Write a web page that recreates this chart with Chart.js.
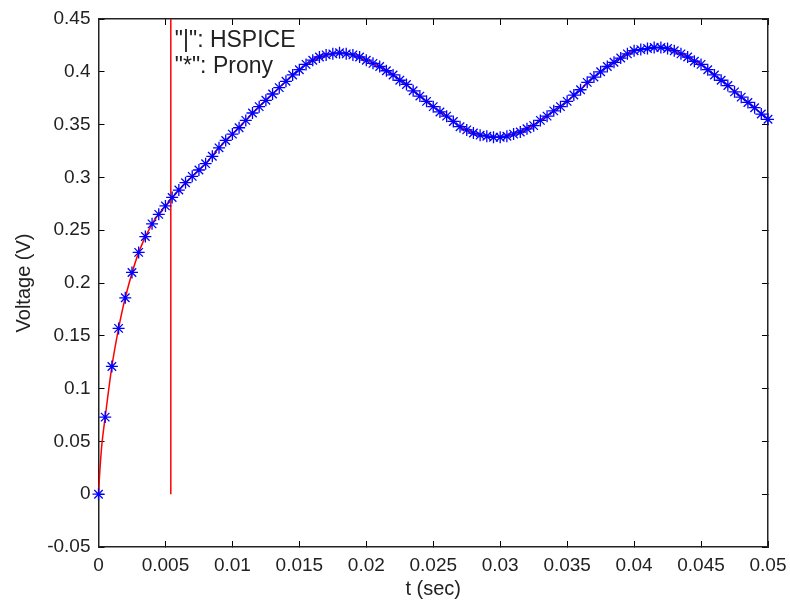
<!DOCTYPE html>
<html>
<head>
<meta charset="utf-8">
<script src="https://cdn.jsdelivr.net/npm/chart.js@4.4.1/dist/chart.umd.min.js"></script>
<style>
  html, body { margin: 0; padding: 0; background: #fff; }
  #wrap { width: 790px; height: 601px; }
</style>
</head>
<body>
<div id="wrap"><canvas id="chart" width="790" height="601"></canvas></div>
<script>
// Prony approximation, sampled every 0.5 ms
const pronyTime = [
  0, 0.0005, 0.001, 0.0015, 0.002, 0.0025, 0.003, 0.0035, 0.004, 0.0045,
  0.005, 0.0055, 0.006, 0.0065, 0.007, 0.0075, 0.008, 0.0085, 0.009, 0.0095,
  0.01, 0.0105, 0.011, 0.0115, 0.012, 0.0125, 0.013, 0.0135, 0.014, 0.0145,
  0.015, 0.0155, 0.016, 0.0165, 0.017, 0.0175, 0.018, 0.0185, 0.019, 0.0195,
  0.02, 0.0205, 0.021, 0.0215, 0.022, 0.0225, 0.023, 0.0235, 0.024, 0.0245,
  0.025, 0.0255, 0.026, 0.0265, 0.027, 0.0275, 0.028, 0.0285, 0.029, 0.0295,
  0.03, 0.0305, 0.031, 0.0315, 0.032, 0.0325, 0.033, 0.0335, 0.034, 0.0345,
  0.035, 0.0355, 0.036, 0.0365, 0.037, 0.0375, 0.038, 0.0385, 0.039, 0.0395,
  0.04, 0.0405, 0.041, 0.0415, 0.042, 0.0425, 0.043, 0.0435, 0.044, 0.0445,
  0.045, 0.0455, 0.046, 0.0465, 0.047, 0.0475, 0.048, 0.0485, 0.049, 0.0495,
  0.05
];
const pronyVolt = [
  0, 0.073, 0.121, 0.157, 0.186, 0.210, 0.229, 0.244, 0.256, 0.265,
  0.273, 0.281, 0.288, 0.295, 0.301, 0.307, 0.313, 0.320, 0.328, 0.335,
  0.341, 0.347, 0.354, 0.361, 0.367, 0.373, 0.379, 0.385, 0.391, 0.397,
  0.402, 0.407, 0.411, 0.414, 0.416, 0.417, 0.418, 0.417, 0.416, 0.414,
  0.411, 0.408, 0.405, 0.401, 0.397, 0.392, 0.388, 0.382, 0.377, 0.372,
  0.367, 0.362, 0.358, 0.353, 0.348, 0.345, 0.342, 0.340, 0.339, 0.338,
  0.338, 0.339, 0.341, 0.343, 0.346, 0.349, 0.354, 0.358, 0.363, 0.367,
  0.372, 0.378, 0.383, 0.390, 0.395, 0.400, 0.405, 0.409, 0.413, 0.417,
  0.420, 0.421, 0.422, 0.423, 0.423, 0.422, 0.420, 0.417, 0.414, 0.410,
  0.407, 0.402, 0.397, 0.392, 0.387, 0.381, 0.376, 0.371, 0.366, 0.360,
  0.355
];

// HSPICE reference waveform
const hspiceTime = [
  0, 0.0001, 0.00025, 0.0005, 0.001, 0.0015, 0.002, 0.003, 0.004, 0.005,
  0.006, 0.007, 0.008, 0.009, 0.01, 0.011, 0.012, 0.013, 0.014, 0.015,
  0.016, 0.017, 0.018, 0.019, 0.02, 0.021, 0.022, 0.023, 0.024, 0.025,
  0.026, 0.027, 0.028, 0.029, 0.03, 0.031, 0.032, 0.033, 0.034, 0.035,
  0.036, 0.037, 0.038, 0.039, 0.04, 0.041, 0.042, 0.043, 0.044, 0.045,
  0.046, 0.047, 0.048, 0.049, 0.05
];
const hspiceVolt = [
  0, 0.022, 0.047, 0.073, 0.121, 0.157, 0.186, 0.229, 0.256, 0.273,
  0.288, 0.301, 0.313, 0.328, 0.341, 0.354, 0.367, 0.379, 0.391, 0.402,
  0.411, 0.416, 0.418, 0.416, 0.411, 0.405, 0.397, 0.388, 0.377, 0.367,
  0.358, 0.348, 0.342, 0.339, 0.338, 0.341, 0.346, 0.354, 0.363, 0.372,
  0.383, 0.395, 0.405, 0.413, 0.420, 0.422, 0.423, 0.420, 0.414, 0.407,
  0.397, 0.387, 0.376, 0.366, 0.355
];

// vertical red line in the HSPICE trace
const cursorTime = [0.0054, 0.0054];
const cursorVolt = [0, 0.45];

const xTicks = [0, 0.005, 0.01, 0.015, 0.02, 0.025, 0.03, 0.035, 0.04, 0.045, 0.05];
const xTickLabels = ["0", "0.005", "0.01", "0.015", "0.02", "0.025", "0.03", "0.035", "0.04", "0.045", "0.05"];
const yTicks = [-0.05, 0, 0.05, 0.1, 0.15, 0.2, 0.25, 0.3, 0.35, 0.4, 0.45];
const yTickLabels = ["-0.05", "0", "0.05", "0.1", "0.15", "0.2", "0.25", "0.3", "0.35", "0.4", "0.45"];

const noteLines = ['"|": HSPICE', '"*": Prony'];

const FONT = '"Liberation Sans", Arial, sans-serif';
const INK = "#222";

const toPoints = (xs, ys) => xs.map((t, i) => ({ x: t, y: ys[i] }));

// axis ticks pointing into the plot box, MATLAB style
const boxGrid = {
  drawOnChartArea: false,
  drawTicks: true,
  tickLength: -6,
  color: "#000",
  lineWidth: 1,
};
const boxBorder = { display: true, color: "#222", width: 1.5 };

// fixed axis sizes, no extra room for overhanging labels
const fixSize = (w, h) => (s) => {
  if (w !== null) s.width = w;
  if (h !== null) s.height = h;
  s.paddingLeft = s.paddingRight = s.paddingTop = s.paddingBottom = 0;
};

const notePlugin = {
  id: "notes",
  afterDatasetsDraw(chart) {
    const { ctx, scales } = chart;
    ctx.save();
    ctx.font = "23px " + FONT;
    ctx.fillStyle = INK;
    ctx.textAlign = "left";
    ctx.textBaseline = "alphabetic";
    const x = scales.x.getPixelForValue(0.0057);
    ctx.fillText(noteLines[0], x, scales.y.getPixelForValue(0.4233));
    ctx.fillText(noteLines[1], x, scales.y.getPixelForValue(0.399));
    ctx.restore();
  },
};

const ctx = document.getElementById("chart").getContext("2d");
new Chart(ctx, {
  type: "scatter",
  data: {
    datasets: [
      {
        label: "Prony",
        data: toPoints(pronyTime, pronyVolt),
        showLine: false,
        pointStyle: "star",
        pointRadius: 6,
        pointBorderWidth: 1.3,
        pointBorderColor: "#0000ff",
        pointBackgroundColor: "#0000ff",
        clip: false,
        order: 0,
      },
      {
        label: "HSPICE",
        data: toPoints(hspiceTime, hspiceVolt),
        showLine: true,
        borderColor: "#ff0000",
        borderWidth: 1.5,
        pointRadius: 0,
        cubicInterpolationMode: "monotone",
        order: 1,
      },
      {
        label: "HSPICE cursor",
        data: toPoints(cursorTime, cursorVolt),
        showLine: true,
        borderColor: "#ff0000",
        borderWidth: 1.5,
        pointRadius: 0,
        order: 2,
      },
    ],
  },
  options: {
    responsive: false,
    animation: false,
    devicePixelRatio: 1,
    layout: { padding: { top: 19, right: 22, left: 0, bottom: 0 } },
    plugins: {
      legend: { display: false },
      tooltip: { enabled: false },
    },
    scales: {
      x: {
        type: "linear",
        position: "bottom",
        min: 0,
        max: 0.05,
        afterBuildTicks: (s) => { s.ticks = xTicks.map((v) => ({ value: v })); },
        afterFit: fixSize(null, 54),
        ticks: {
          padding: 13,
          color: INK,
          font: { family: FONT, size: 19 },
          maxRotation: 0,
          autoSkip: false,
          callback: (v, i) => xTickLabels[i],
        },
        grid: boxGrid,
        border: boxBorder,
        title: {
          display: true,
          text: "t (sec)",
          color: INK,
          font: { family: FONT, size: 20 },
          padding: { top: 0, bottom: 0 },
        },
      },
      x2: {
        type: "linear",
        position: "top",
        min: 0,
        max: 0.05,
        afterBuildTicks: (s) => { s.ticks = xTicks.map((v) => ({ value: v })); },
        afterFit: fixSize(null, 0),
        ticks: { display: false },
        grid: boxGrid,
        border: boxBorder,
      },
      y: {
        type: "linear",
        position: "left",
        min: -0.05,
        max: 0.45,
        afterBuildTicks: (s) => { s.ticks = yTicks.map((v) => ({ value: v })); },
        afterFit: fixSize(98.5, null),
        ticks: {
          padding: 14,
          color: INK,
          font: { family: FONT, size: 19 },
          autoSkip: false,
          callback: (v, i) => yTickLabels[i],
        },
        grid: boxGrid,
        border: boxBorder,
        title: {
          display: true,
          text: "Voltage (V)",
          color: INK,
          font: { family: FONT, size: 20 },
          padding: { top: 12, bottom: 0 },
        },
      },
      y2: {
        type: "linear",
        position: "right",
        min: -0.05,
        max: 0.45,
        afterBuildTicks: (s) => { s.ticks = yTicks.map((v) => ({ value: v })); },
        afterFit: fixSize(0, null),
        ticks: { display: false },
        grid: boxGrid,
        border: boxBorder,
      },
    },
  },
  plugins: [notePlugin],
});
</script>
</body>
</html>
